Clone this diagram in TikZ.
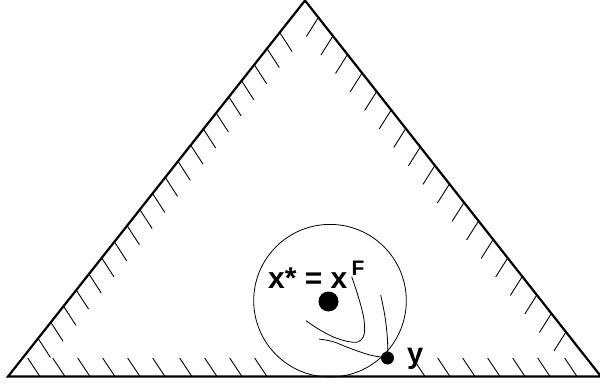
\documentclass[tikz,border=0pt]{standalone}
\usepackage{fontspec}
\setmainfont{Liberation Sans}
\usetikzlibrary{calc}
\begin{document}
\begin{tikzpicture}[x=1pt,y=-1pt,
  edge/.style={line width=2.2pt,line join=miter},
  hatch/.style={line width=0.9pt},
  thin line/.style={line width=0.8pt},
  dot/.style={circle,fill=black,inner sep=0pt},
  lbl/.style={anchor=base west,inner sep=0pt,font=\bfseries}]
\useasboundingbox (0,0) rectangle (600,385);
\coordinate (A) at (305,0.5);
\coordinate (L) at (8,376.5);
\coordinate (R) at (601,376.5);
% hatching
\foreach \k in {0,...,19}{
  \pgfmathsetmacro\t{(32+16.1*\k)/376}
  \draw[hatch] ($(A)!\t!(L)$) -- ++(12.3,19);
}
\foreach \k in {0,...,17}{
  \pgfmathsetmacro\t{(17+18.5*\k)/376}
  \draw[hatch] ($(A)!\t!(R)$) -- ++(-12,19);
}
\foreach \x in {40,65,90,115,140,165,192,217,242,267,425,450,475,500,525,550,577}{
  \draw[hatch] (\x,376.5) -- ++(-12.3,-18.5);
}
% triangle
\draw[edge] (L) -- (A) -- (R) -- cycle;
% circle
\coordinate (c) at (330,300.7);
\draw[thin line] (c) circle[radius=76.3pt];
% dots
\node[dot,minimum size=20pt] (xs) at (328.5,301.5) {};
\node[dot,minimum size=13pt] (yd) at (387.5,358) {};
% level curves
\draw[thin line] plot[smooth,tension=0.6] coordinates {(351.7,276.7) (358.3,296.7) (363.5,316.7) (364.5,332) (361,340) (353.3,342.3) (336.7,338.3) (320,330) (306,320.7)};
\draw[thin line] plot[smooth,tension=0.6] coordinates {(380.7,295) (385,316.7) (387.5,340) (yd.center)};
\draw[thin line] plot[smooth,tension=0.6] coordinates {(yd.center) (370,355) (350,348.3) (333.3,341.7) (319,339)};
% labels
\node[lbl,font=\bfseries\fontsize{30}{30}\selectfont] (xlab) at (268,288.3) {x* = x};
\node[lbl,font=\bfseries\fontsize{21}{21}\selectfont] (flab) at (351.5,275) {F};
\node[lbl,font=\bfseries\fontsize{29}{29}\selectfont] (ylab) at (407,363) {y};
\end{tikzpicture}
\end{document}
